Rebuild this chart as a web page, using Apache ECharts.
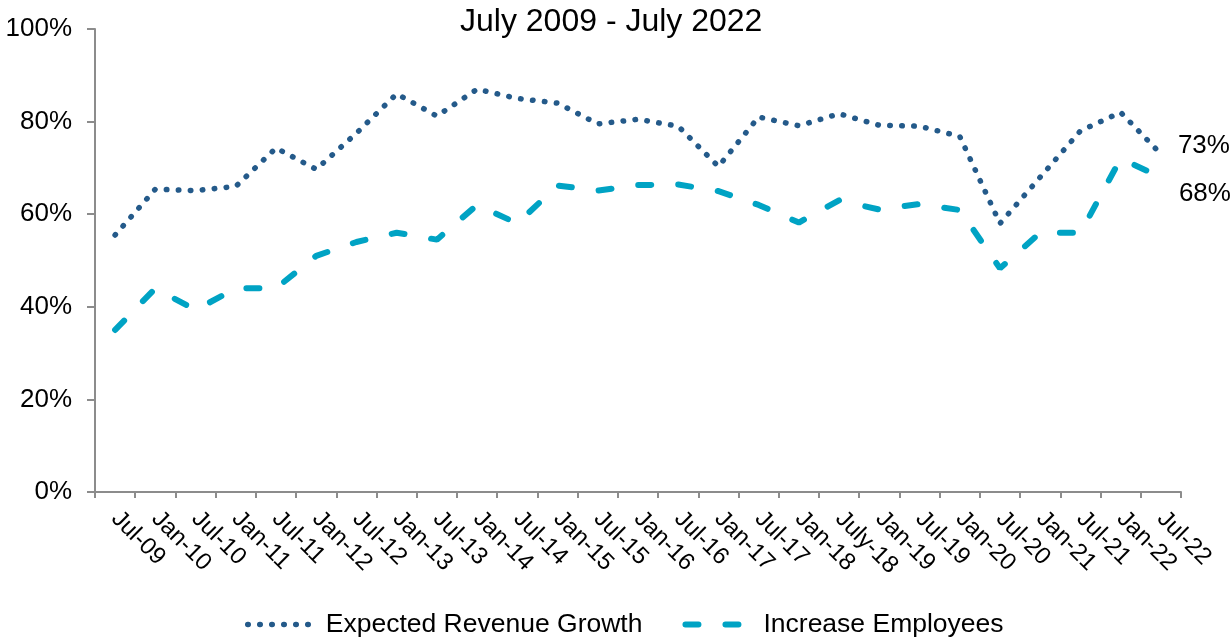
<!DOCTYPE html>
<html>
<head>
<meta charset="utf-8">
<title>July 2009 - July 2022</title>
<script src="https://cdn.jsdelivr.net/npm/echarts@6/dist/echarts.min.js"></script>
<style>
  html, body { margin: 0; padding: 0; background: #ffffff; }
  #chart { width: 1232px; height: 637px; }
</style>
</head>
<body>
<div id="chart"></div>
<script>
// Survey periods (half-yearly)
const categories = ['Jul-09','Jan-10','Jul-10','Jan-11','Jul-11','Jan-12','Jul-12','Jan-13','Jul-13','Jan-14',
  'Jul-14','Jan-15','Jul-15','Jan-16','Jul-16','Jan-17','Jul-17','Jan-18','July-18','Jan-19',
  'Jul-19','Jan-20','Jul-20','Jan-21','Jul-21','Jan-22','Jul-22'];

// Share of respondents, in percent
const expectedRevenueGrowth = [55.5, 65.4, 65.1, 66, 74.3, 69.7, 77.5, 86, 81.2, 87,
  85, 84, 79.5, 80.5, 79, 70.3, 81, 79.1, 81.7, 79.2,
  79, 76.8, 58, 68, 78, 82, 73];
const increaseEmployees = [35, 44, 39.3, 44, 44, 51, 54, 56, 54.5, 62,
  58, 66.2, 65.1, 66.3, 66.4, 65, 62, 58.2, 63, 61,
  62.2, 60.9, 48.3, 56, 56, 72, 68];

const yTicks = { min: 0, max: 100, step: 20 };

const FONT = 'Liberation Sans, Arial, sans-serif';
const AXIS_GREY = '#8c8c8c';
const DOT_BLUE = '#245a8a';
const DASH_TEAL = '#00a3c4';

const dotStyle = { color: DOT_BLUE, width: 5.5, type: [0.5, 11.5], cap: 'round' };
const dashStyle = { color: DASH_TEAL, width: 6, type: [13, 27], cap: 'round' };

const chart = echarts.init(document.getElementById('chart'), null, { renderer: 'canvas' });

chart.setOption({
  animation: false,
  backgroundColor: '#ffffff',
  title: {
    text: 'July 2009 - July 2022',
    left: 460,
    top: 1,
    padding: [5, 0, 5, 0],
    textStyle: { fontFamily: FONT, fontSize: 32, fontWeight: 'normal', color: '#000000' }
  },
  legend: {
    data: [
      { name: 'Expected Revenue Growth', lineStyle: dotStyle },
      { name: 'Increase Employees', lineStyle: dashStyle }
    ],
    left: 240,
    top: 606,
    itemWidth: 66,
    itemHeight: 14,
    itemGap: 40,
    itemStyle: { opacity: 0 },
    textStyle: { fontFamily: FONT, fontSize: 26.5, color: '#000000', padding: [0, 0, 0, 7] }
  },
  grid: { left: 95, right: 51, top: 29, bottom: 145, containLabel: false },
  xAxis: {
    type: 'category',
    data: categories,
    boundaryGap: true,
    axisLine: { show: true, lineStyle: { color: AXIS_GREY, width: 2 } },
    axisTick: { show: true, interval: 0, length: 6, lineStyle: { color: AXIS_GREY, width: 2 } },
    axisLabel: {
      interval: 0,
      rotate: -45,
      margin: 23,
      fontFamily: FONT,
      fontSize: 24,
      color: '#000000'
    },
    splitLine: { show: false }
  },
  yAxis: {
    type: 'value',
    min: yTicks.min,
    max: yTicks.max,
    interval: yTicks.step,
    axisLine: { show: true, lineStyle: { color: AXIS_GREY, width: 2 } },
    axisTick: { show: true, length: 8, lineStyle: { color: AXIS_GREY, width: 2 } },
    axisLabel: {
      formatter: '{value}%',
      margin: 23,
      fontFamily: FONT,
      fontSize: 26,
      color: '#000000'
    },
    splitLine: { show: false }
  },
  series: [
    {
      name: 'Expected Revenue Growth',
      type: 'line',
      data: expectedRevenueGrowth,
      showSymbol: false,
      symbol: 'none',
      color: DOT_BLUE,
      lineStyle: dotStyle,
      endLabel: {
        show: true,
        formatter: p => Math.round(p.value) + '%',
        offset: [9, -8],
        fontFamily: FONT,
        fontSize: 26,
        color: '#000000'
      }
    },
    {
      name: 'Increase Employees',
      type: 'line',
      data: increaseEmployees,
      showSymbol: false,
      symbol: 'none',
      color: DASH_TEAL,
      lineStyle: dashStyle,
      endLabel: {
        show: true,
        formatter: p => Math.round(p.value) + '%',
        offset: [10, 17],
        fontFamily: FONT,
        fontSize: 26,
        color: '#000000'
      }
    }
  ]
});
</script>
</body>
</html>
